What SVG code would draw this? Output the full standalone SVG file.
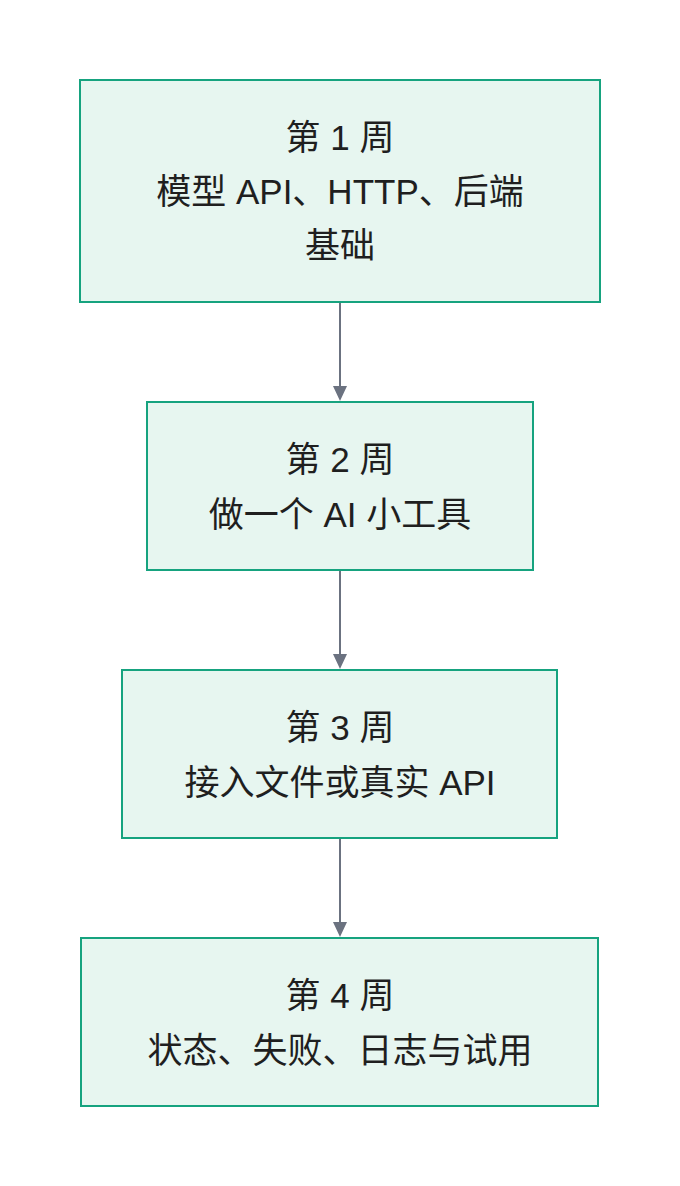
<svg xmlns="http://www.w3.org/2000/svg" width="680" height="1186" viewBox="0 0 680 1186">
<defs>
<style>
.box{fill:#e7f6f0;stroke:#16a37f;stroke-width:2}
.t{font-family:"Liberation Sans","Noto Sans CJK SC",sans-serif;font-size:35px;fill:#1f1f1f;text-anchor:middle}
.c{stroke:#6b7280;stroke-width:2;fill:none}
</style>
</defs>
<rect width="680" height="1186" fill="#fff"/>
<g id="connectors">
<line class="c" x1="340" y1="302" x2="340" y2="386"/><path d="M333,386 L347,386 L340,401 Z" fill="#6b7280"/>
<line class="c" x1="340" y1="570" x2="340" y2="654"/><path d="M333,654 L347,654 L340,669 Z" fill="#6b7280"/>
<line class="c" x1="340" y1="838" x2="340" y2="922"/><path d="M333,922 L347,922 L340,937 Z" fill="#6b7280"/>
</g>
<g id="week1">
<rect class="box" x="80" y="80" width="520" height="222"/>
<text class="t" x="340" y="150">第 1 周</text>
<text class="t" x="340" y="204">模型 API、HTTP、后端</text>
<text class="t" x="340" y="258">基础</text>
</g>
<g id="week2">
<rect class="box" x="147" y="402" width="386" height="168"/>
<text class="t" x="340" y="472">第 2 周</text>
<text class="t" x="340" y="527">做一个 AI 小工具</text>
</g>
<g id="week3">
<rect class="box" x="122" y="670" width="435" height="168"/>
<text class="t" x="340" y="740">第 3 周</text>
<text class="t" x="340" y="795">接入文件或真实 API</text>
</g>
<g id="week4">
<rect class="box" x="81" y="938" width="517" height="168"/>
<text class="t" x="340" y="1008">第 4 周</text>
<text class="t" x="340" y="1063">状态、失败、日志与试用</text>
</g>
</svg>
